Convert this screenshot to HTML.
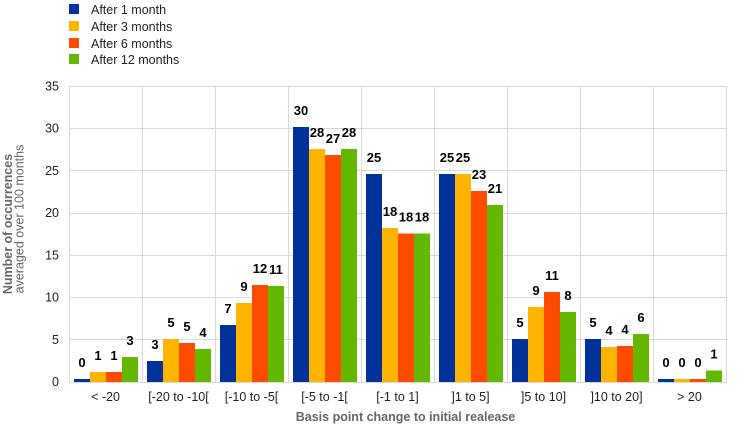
<!DOCTYPE html>
<html>
<head>
<meta charset="utf-8">
<style>
  html, body { margin: 0; padding: 0; background: #ffffff; }
  svg { display: block; }
  text { font-family: "Liberation Sans", Arial, sans-serif; }
</style>
</head>
<body>
<svg width="744" height="428" viewBox="0 0 744 428" xmlns="http://www.w3.org/2000/svg">
  <rect x="0" y="0" width="744" height="428" fill="#ffffff"/>

  <!-- Legend -->
  <g font-size="12.5" fill="#222">
    <rect x="69" y="4" width="10" height="10" fill="#003299"/>
    <text x="91" y="14">After 1 month</text>
    <rect x="69" y="21" width="10" height="10" fill="#FFB400"/>
    <text x="91" y="31">After 3 months</text>
    <rect x="69" y="38" width="10" height="10" fill="#FF4B00"/>
    <text x="91" y="48">After 6 months</text>
    <rect x="69" y="54" width="10" height="10" fill="#65B800"/>
    <text x="91" y="64">After 12 months</text>
  </g>

  <!-- Horizontal gridlines -->
  <g stroke="#d9d9d9" stroke-width="1">
    <line x1="69" y1="86.5" x2="726" y2="86.5"/>
    <line x1="69" y1="128.5" x2="726" y2="128.5"/>
    <line x1="69" y1="170.5" x2="726" y2="170.5"/>
    <line x1="69" y1="213.5" x2="726" y2="213.5"/>
    <line x1="69" y1="255.5" x2="726" y2="255.5"/>
    <line x1="69" y1="297.5" x2="726" y2="297.5"/>
    <line x1="69" y1="339.5" x2="726" y2="339.5"/>
    <line x1="69" y1="382.5" x2="726" y2="382.5"/>
    <!-- Vertical gridlines -->
    <line x1="69.5" y1="86" x2="69.5" y2="383"/>
    <line x1="142.5" y1="86" x2="142.5" y2="383"/>
    <line x1="215.5" y1="86" x2="215.5" y2="383"/>
    <line x1="288.5" y1="86" x2="288.5" y2="383"/>
    <line x1="361.5" y1="86" x2="361.5" y2="383"/>
    <line x1="434.5" y1="86" x2="434.5" y2="383"/>
    <line x1="507.5" y1="86" x2="507.5" y2="383"/>
    <line x1="580.5" y1="86" x2="580.5" y2="383"/>
    <line x1="653.5" y1="86" x2="653.5" y2="383"/>
    <line x1="726.5" y1="86" x2="726.5" y2="383"/>
  </g>

  <!-- Y tick labels -->
  <g font-size="12.5" fill="#222" text-anchor="end">
    <text x="59" y="90.5">35</text>
    <text x="59" y="132.5">30</text>
    <text x="59" y="175">25</text>
    <text x="59" y="217">20</text>
    <text x="59" y="259.5">15</text>
    <text x="59" y="301.5">10</text>
    <text x="59" y="344">5</text>
    <text x="59" y="386">0</text>
  </g>

  <!-- Bars -->
  <g>
    <!-- cat0 < -20 -->
    <rect x="74" y="379" width="16" height="3" fill="#003299"/>
    <rect x="90" y="372" width="16" height="10" fill="#FFB400"/>
    <rect x="106" y="372" width="16" height="10" fill="#FF4B00"/>
    <rect x="122" y="357" width="16" height="25" fill="#65B800"/>
    <!-- cat1 -->
    <rect x="147" y="361" width="16" height="21" fill="#003299"/>
    <rect x="163" y="339" width="16" height="43" fill="#FFB400"/>
    <rect x="179" y="343" width="16" height="39" fill="#FF4B00"/>
    <rect x="195" y="349" width="16" height="33" fill="#65B800"/>
    <!-- cat2 -->
    <rect x="220" y="325" width="16" height="57" fill="#003299"/>
    <rect x="236" y="303" width="16" height="79" fill="#FFB400"/>
    <rect x="252" y="285" width="16" height="97" fill="#FF4B00"/>
    <rect x="268" y="286" width="16" height="96" fill="#65B800"/>
    <!-- cat3 -->
    <rect x="293" y="127" width="16" height="255" fill="#003299"/>
    <rect x="309" y="149" width="16" height="233" fill="#FFB400"/>
    <rect x="325" y="155" width="16" height="227" fill="#FF4B00"/>
    <rect x="341" y="149" width="16" height="233" fill="#65B800"/>
    <!-- cat4 -->
    <rect x="366" y="174" width="16" height="208" fill="#003299"/>
    <rect x="382" y="228" width="16" height="154" fill="#FFB400"/>
    <rect x="398" y="233.5" width="16" height="148.5" fill="#FF4B00"/>
    <rect x="414" y="233.5" width="16" height="148.5" fill="#65B800"/>
    <!-- cat5 -->
    <rect x="439" y="174" width="16" height="208" fill="#003299"/>
    <rect x="455" y="174" width="16" height="208" fill="#FFB400"/>
    <rect x="471" y="191" width="16" height="191" fill="#FF4B00"/>
    <rect x="487" y="205" width="16" height="177" fill="#65B800"/>
    <!-- cat6 -->
    <rect x="512" y="339" width="16" height="43" fill="#003299"/>
    <rect x="528" y="307" width="16" height="75" fill="#FFB400"/>
    <rect x="544" y="292" width="16" height="90" fill="#FF4B00"/>
    <rect x="560" y="312" width="16" height="70" fill="#65B800"/>
    <!-- cat7 -->
    <rect x="585" y="339" width="16" height="43" fill="#003299"/>
    <rect x="601" y="347" width="16" height="35" fill="#FFB400"/>
    <rect x="617" y="346" width="16" height="36" fill="#FF4B00"/>
    <rect x="633" y="334" width="16" height="48" fill="#65B800"/>
    <!-- cat8 -->
    <rect x="658" y="379" width="16" height="3" fill="#003299"/>
    <rect x="674" y="379" width="16" height="3" fill="#FFB400"/>
    <rect x="690" y="379" width="16" height="3" fill="#FF4B00"/>
    <rect x="706" y="370.5" width="16" height="11.5" fill="#65B800"/>
  </g>

  <!-- Data labels -->
  <g font-size="13" font-weight="bold" fill="#000" text-anchor="middle">
    <text x="82" y="367">0</text>
    <text x="98" y="360">1</text>
    <text x="114" y="360">1</text>
    <text x="130" y="345">3</text>

    <text x="155" y="349">3</text>
    <text x="171" y="327">5</text>
    <text x="187" y="331">5</text>
    <text x="203" y="337">4</text>

    <text x="228" y="313">7</text>
    <text x="244" y="291">9</text>
    <text x="260" y="273">12</text>
    <text x="276" y="274">11</text>

    <text x="301" y="115">30</text>
    <text x="317" y="137">28</text>
    <text x="333" y="143">27</text>
    <text x="349" y="137">28</text>

    <text x="374" y="162">25</text>
    <text x="390" y="216">18</text>
    <text x="406" y="221.5">18</text>
    <text x="422" y="221.5">18</text>

    <text x="447" y="162">25</text>
    <text x="463" y="162">25</text>
    <text x="479" y="179">23</text>
    <text x="495" y="193">21</text>

    <text x="520" y="327">5</text>
    <text x="536" y="295">9</text>
    <text x="552" y="280">11</text>
    <text x="568" y="300">8</text>

    <text x="593" y="327">5</text>
    <text x="609" y="335">4</text>
    <text x="625" y="334">4</text>
    <text x="641" y="322">6</text>

    <text x="666" y="367">0</text>
    <text x="682" y="367">0</text>
    <text x="698" y="367">0</text>
    <text x="714" y="358.5">1</text>
  </g>

  <!-- X tick labels -->
  <g font-size="12.5" fill="#222" text-anchor="middle">
    <text x="105.5" y="401">&lt; -20</text>
    <text x="178.5" y="401">[-20 to -10[</text>
    <text x="251.5" y="401">[-10 to -5[</text>
    <text x="324.5" y="401">[-5 to -1[</text>
    <text x="397.5" y="401">[-1 to 1]</text>
    <text x="470.5" y="401">]1 to 5]</text>
    <text x="543.5" y="401">]5 to 10]</text>
    <text x="616.5" y="401">]10 to 20]</text>
    <text x="689.5" y="401">&gt; 20</text>
  </g>

  <!-- Axis titles -->
  <text x="405.5" y="421" font-size="12.5" font-weight="bold" fill="#666" text-anchor="middle">Basis point change to initial realease</text>
  <text x="12" y="224" font-size="12.5" font-weight="bold" fill="#666" text-anchor="middle" transform="rotate(-90 12 224)">Number of occurrences</text>
  <text x="23.5" y="219" font-size="12.5" fill="#666" text-anchor="middle" transform="rotate(-90 23.5 219)">averaged over 100 months</text>
</svg>
</body>
</html>
